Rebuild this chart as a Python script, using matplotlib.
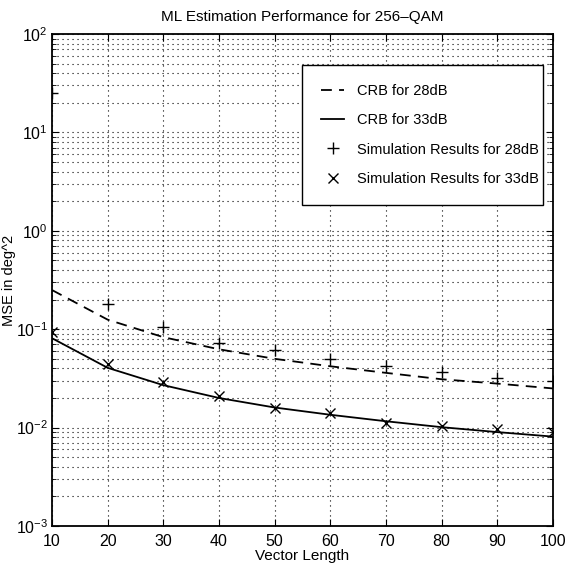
import numpy as np
import matplotlib.pyplot as plt
from matplotlib.ticker import LogLocator, NullFormatter

plt.rcParams['font.family'] = ['Liberation Sans', 'DejaVu Sans']

vec_len = [10, 20, 30, 40, 50, 60, 70, 80, 90, 100]
crb_28 = [0.25, 0.125, 0.083, 0.0625, 0.05, 0.042, 0.036, 0.031, 0.028, 0.025]
crb_33 = [0.081, 0.0405, 0.027, 0.020, 0.016, 0.0135, 0.0116, 0.0101, 0.009, 0.0081]
sim_28 = [25, 0.18, 0.105, 0.072, 0.061, 0.05, 0.042, 0.037, 0.032, 0.030]
sim_33 = [0.093, 0.044, 0.029, 0.021, 0.016, 0.014, 0.0112, 0.0105, 0.0096, 0.009]

fig = plt.figure(figsize=(5.66, 5.69), dpi=100)
ax = fig.add_axes([52/566, 1-526/569, 501/566, 492/569])

ax.semilogy(vec_len, crb_28, 'k--', lw=1.3, dashes=(6, 4), label='CRB for 28dB')
ax.semilogy(vec_len, crb_33, 'k-', lw=1.3, label='CRB for 33dB')
ax.semilogy(vec_len, sim_28, 'k+', ms=8, mew=1.0, ls='none', label='Simulation Results for 28dB')
ax.semilogy(vec_len, sim_33, 'kx', ms=7, mew=1.0, ls='none', label='Simulation Results for 33dB')

ax.set_xlim(10, 100)
ax.set_ylim(1e-3, 1e2)
ax.set_xticks(vec_len)
ax.yaxis.set_major_locator(LogLocator(base=10, numticks=10))
ax.yaxis.set_minor_locator(LogLocator(base=10, subs=np.arange(2, 10), numticks=20))
ax.yaxis.set_minor_formatter(NullFormatter())

grid_kw = dict(color='k', lw=0.8, dashes=(1, 3.5))
ax.grid(True, which='major', axis='both', **grid_kw)
ax.grid(True, which='minor', axis='y', **grid_kw)
ax.tick_params(which='both', direction='in', top=True, right=True, labelsize=11.5)
ax.tick_params(axis='x', pad=6)
ax.tick_params(axis='y', pad=3)
ax.tick_params(which='major', length=5)
ax.tick_params(which='minor', length=3)
for s in ax.spines.values():
    s.set_linewidth(1.3)

ax.set_title('ML Estimation Performance for 256\u2013QAM', fontsize=11, pad=9)
ax.set_xlabel('Vector Length', fontsize=11, labelpad=0)
ax.set_ylabel('MSE in deg^2', fontsize=10.5)
ax.yaxis.set_label_coords(-0.072, 0.5)

leg = ax.legend(loc='upper left', bbox_to_anchor=(0.499, 0.937, 0.481, 0.0),
                mode='expand', fontsize=10.5,
                frameon=True, fancybox=False, edgecolor='k', framealpha=1,
                handlelength=1.6, handletextpad=0.9, borderpad=1.3,
                labelspacing=1.05, borderaxespad=0)
leg.get_frame().set_linewidth(1.0)

plt.savefig('out.png', dpi=100)
